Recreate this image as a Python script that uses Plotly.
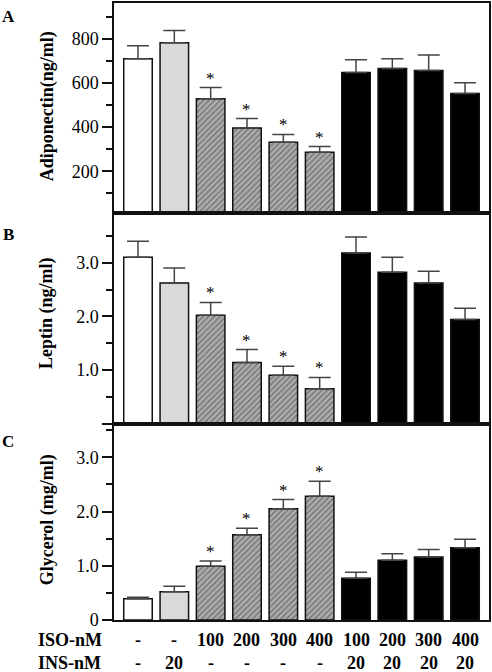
import plotly.graph_objects as go

groups = ["ctrl", "ins", "iso100", "iso200", "iso300", "iso400",
          "iso100ins", "iso200ins", "iso300ins", "iso400ins"]
iso_labels = ["-", "-", "100", "200", "300", "400", "100", "200", "300", "400"]
ins_labels = ["-", "20", "-", "-", "-", "-", "20", "20", "20", "20"]
styles = ["white", "gray", "hatch", "hatch", "hatch", "hatch", "black", "black", "black", "black"]

adiponectin = [710, 782, 529, 396, 332, 286, 647, 665, 656, 552]
adiponectin_err = [58, 55, 50, 43, 35, 26, 58, 45, 71, 49]
adiponectin_sig = [0, 0, 1, 1, 1, 1, 0, 0, 0, 0]

leptin = [3.10, 2.62, 2.02, 1.14, 0.90, 0.65, 3.18, 2.82, 2.62, 1.94]
leptin_err = [0.30, 0.28, 0.24, 0.24, 0.17, 0.21, 0.30, 0.28, 0.22, 0.21]
leptin_sig = [0, 0, 1, 1, 1, 1, 0, 0, 0, 0]

glycerol = [0.39, 0.52, 0.99, 1.57, 2.05, 2.28, 0.77, 1.10, 1.16, 1.33]
glycerol_err = [0.03, 0.10, 0.10, 0.12, 0.17, 0.28, 0.11, 0.12, 0.14, 0.16]
glycerol_sig = [0, 0, 1, 1, 1, 1, 0, 0, 0, 0]

FONT = "Liberation Serif"
fill = {"white": "#ffffff", "gray": "#d9d9d9", "hatch": "#aeaeae", "black": "#000000"}
shape = {"white": "", "gray": "", "hatch": "/", "black": ""}

xs = list(range(len(groups)))
colors = [fill[s] for s in styles]
shapes = [shape[s] for s in styles]

fig = go.Figure()
panels = [
    ("x", "y", adiponectin, adiponectin_err, adiponectin_sig),
    ("x2", "y2", leptin, leptin_err, leptin_sig),
    ("x3", "y3", glycerol, glycerol_err, glycerol_sig),
]
for xa, ya, vals, errs, sig in panels:
    fig.add_trace(go.Bar(
        x=xs, y=vals, xaxis=xa, yaxis=ya, width=0.785,
        marker=dict(color=colors, line=dict(color="#111", width=1.5),
                    pattern=dict(shape=shapes, fgcolor="#3a3a3a",
                                 size=4, solidity=0.4, fillmode="overlay")),
        error_y=dict(type="data", array=errs, arrayminus=[0] * len(errs), symmetric=False,
                     color="#444", thickness=1.5, width=11),
        showlegend=False,
    ))
    for i, s in enumerate(sig):
        if s:
            fig.add_annotation(x=xs[i], y=vals[i] + errs[i], xref=xa, yref=ya,
                               text="*", showarrow=False, yanchor="bottom", yshift=-2,
                               font=dict(family=FONT, size=17, color="black"))

xcommon = dict(range=[-0.66, 9.66], showticklabels=False, ticks="", showline=True,
               linecolor="#111", linewidth=1.5, mirror=True, showgrid=False, zeroline=False)
ycommon = dict(showline=True, linecolor="#111", linewidth=1.5, mirror=True, ticks="outside",
               ticklen=10, tickwidth=1.5, tickcolor="#111", showgrid=False, zeroline=False,
               tickfont=dict(family=FONT, size=18, color="black"))

d1 = 197 / 619
d2 = 408 / 619
fig.update_layout(
    width=492, height=672,
    margin=dict(l=114, r=3, t=1, b=52),
    plot_bgcolor="white", paper_bgcolor="white",
    barmode="overlay",
    xaxis=dict(**xcommon, anchor="y"),
    xaxis2=dict(**xcommon, anchor="y2", matches="x"),
    xaxis3=dict(**xcommon, anchor="y3", matches="x"),
    yaxis=dict(**ycommon, domain=[d2, 1], range=[10, 962],
               tickmode="array", tickvals=[0, 200, 400, 600, 800],
               ticktext=["", "200", "400", "600", "800"],
               minor=dict(tickvals=[100, 300, 500, 700, 900], ticks="outside", ticklen=6,
                          tickwidth=1.5, tickcolor="#111")),
    yaxis2=dict(**ycommon, domain=[d1, d2], range=[0, 3.92],
                tickmode="array", tickvals=[0, 1, 2, 3], ticktext=["", "1.0", "2.0", "3.0"],
                minor=dict(tickvals=[0.5, 1.5, 2.5, 3.5], ticks="outside", ticklen=6,
                           tickwidth=1.5, tickcolor="#111")),
    yaxis3=dict(**ycommon, domain=[0, d1], range=[0, 3.62],
                tickmode="array", tickvals=[0, 1, 2, 3], ticktext=["0", "1.0", "2.0", "3.0"],
                minor=dict(tickvals=[0.5, 1.5, 2.5, 3.5], ticks="outside", ticklen=6,
                           tickwidth=1.5, tickcolor="#111")),
)


def px_x(px):
    return (px - 114) / 375


def px_y(px):
    return (620 - px) / 619


# y-axis titles
titles = [("Adiponectin(ng/ml)", 104.5), ("Leptin (ng/ml)", 312), ("Glycerol (mg/ml)", 520)]
for t, ypx in titles:
    fig.add_annotation(text="<b>" + t + "</b>", xref="paper", yref="paper",
                       x=px_x(47), y=px_y(ypx), textangle=-90,
                       showarrow=False, xanchor="center", yanchor="middle",
                       font=dict(family=FONT, size=18, color="black"))

# panel letters
for letter, ypx in [("A", 15), ("B", 233), ("C", 441)]:
    fig.add_annotation(text="<b>" + letter + "</b>", xref="paper", yref="paper",
                       x=px_x(8), y=px_y(ypx), showarrow=False,
                       xanchor="center", yanchor="middle",
                       font=dict(family=FONT, size=17, color="black"))

# bottom condition rows
for row_label, labels, ypx in [("ISO-nM", iso_labels, 640.5), ("INS-nM", ins_labels, 663)]:
    fig.add_annotation(text="<b>" + row_label + "</b>", xref="paper", yref="paper",
                       x=px_x(69.5), y=px_y(ypx), showarrow=False,
                       xanchor="center", yanchor="middle",
                       font=dict(family=FONT, size=18, color="black"))
    for i, lab in enumerate(labels):
        fig.add_annotation(text="<b>" + lab + "</b>", xref="x3", yref="paper",
                           x=xs[i], y=px_y(ypx), showarrow=False,
                           xanchor="center", yanchor="middle",
                           font=dict(family=FONT, size=18, color="black"))

fig.write_html("out.html", config={"displayModeBar": False},
               post_script="document.body.style.margin='0';document.body.style.overflow='hidden';")
